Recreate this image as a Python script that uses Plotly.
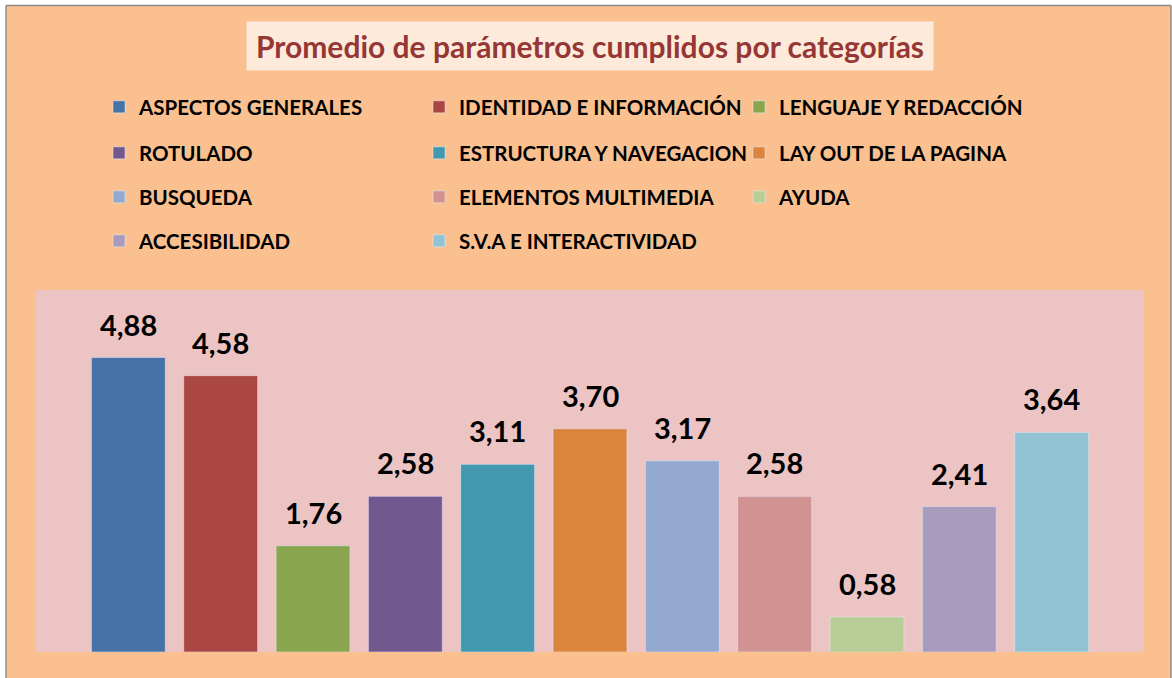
import plotly.graph_objects as go

categories = ["ASPECTOS GENERALES", "IDENTIDAD E INFORMACIÓN", "LENGUAJE Y REDACCIÓN",
              "ROTULADO", "ESTRUCTURA Y NAVEGACION", "LAY OUT DE LA PAGINA",
              "BUSQUEDA", "ELEMENTOS MULTIMEDIA", "AYUDA",
              "ACCESIBILIDAD", "S.V.A E INTERACTIVIDAD"]
values = [4.88, 4.58, 1.76, 2.58, 3.11, 3.70, 3.17, 2.58, 0.58, 2.41, 3.64]
colors = ["#4572A7", "#AA4643", "#89A54E", "#71588F", "#4198AF", "#DB843D",
          "#93A9CF", "#D19392", "#B9CD96", "#A99BBD", "#92C3D4"]
title_text = "Promedio de parámetros cumplidos por categorías"

W, H = 1172, 678
L, R, T, B = 36, 28, 290, 26
pw, ph = W - L - R, H - T - B

def px_x(px):
    return (px - L) / pw

def px_y(py):
    return (H - B - py) / ph

FONT = "Lato"
legend_names = ["legend", "legend2", "legend3", "legend4"]
row_y = [107, 153, 197, 241]

fig = go.Figure()
for i, (c, v, col) in enumerate(zip(categories, values, colors)):
    fig.add_trace(go.Bar(
        x=[i], y=[v], name=c, marker_color=col, width=0.8,
        legend=legend_names[i // 3], hoverinfo="name+y",
    ))

annotations = []
for i, v in enumerate(values):
    annotations.append(dict(
        x=i, y=v, xref="x", yref="y", text=f"<b>{v:.2f}</b>".replace(".", ","),
        showarrow=False, yanchor="bottom", yshift=14,
        font=dict(family=FONT, size=29, color="black"),
    ))
annotations.append(dict(
    x=px_x(590), y=px_y(46), xref="paper", yref="paper", text=f"<b>{title_text}</b>",
    showarrow=False, xanchor="center", yanchor="middle",
    width=686, height=48, bgcolor="#FDEADA", borderpad=0,
    font=dict(family=FONT, size=30, color="#953735"),
))

layout_legends = {}
for k, name in enumerate(legend_names):
    layout_legends[name] = dict(
        orientation="h", x=px_x(99), y=px_y(row_y[k]), xanchor="left", yanchor="middle",
        bgcolor="rgba(0,0,0,0)", entrywidth=275, entrywidthmode="pixels",
        font=dict(family=FONT, size=20.5, color="black", weight="bold"),
        itemclick=False, itemdoubleclick=False,
    )

border = "#8C8C8C"
shapes = [
    dict(type="rect", xref="paper", yref="paper", layer="below",
         x0=px_x(0), x1=px_x(W), y0=px_y(5.5), y1=px_y(0),
         fillcolor="white", line=dict(width=0)),
    dict(type="rect", xref="paper", yref="paper", layer="below",
         x0=px_x(0), x1=px_x(6), y0=px_y(H), y1=px_y(0),
         fillcolor="white", line=dict(width=0)),
    dict(type="rect", xref="paper", yref="paper", layer="below",
         x0=px_x(1171), x1=px_x(W), y0=px_y(H), y1=px_y(0),
         fillcolor="white", line=dict(width=0)),
    dict(type="line", xref="paper", yref="paper", layer="below",
         x0=px_x(6), x1=px_x(1171), y0=px_y(5.5), y1=px_y(5.5),
         line=dict(color=border, width=1.5)),
    dict(type="line", xref="paper", yref="paper", layer="below",
         x0=px_x(6), x1=px_x(6), y0=px_y(5.5), y1=px_y(H + 2),
         line=dict(color=border, width=1.5)),
    dict(type="line", xref="paper", yref="paper", layer="below",
         x0=px_x(1171), x1=px_x(1171), y0=px_y(5.5), y1=px_y(H + 2),
         line=dict(color=border, width=1.5)),
]

fig.update_layout(
    width=W, height=H,
    margin=dict(l=L, r=R, t=T, b=B, autoexpand=False),
    paper_bgcolor="#FAC090",
    plot_bgcolor="#ECC4C4",
    barmode="overlay",
    showlegend=True,
    annotations=annotations,
    xaxis=dict(range=[-1, 11], visible=False, fixedrange=True),
    yaxis=dict(range=[0, 6], visible=False, fixedrange=True),
    shapes=shapes,
    **layout_legends,
)

fig.write_html("out.html", config={"displayModeBar": False},
               post_script="document.body.style.margin='0';")
